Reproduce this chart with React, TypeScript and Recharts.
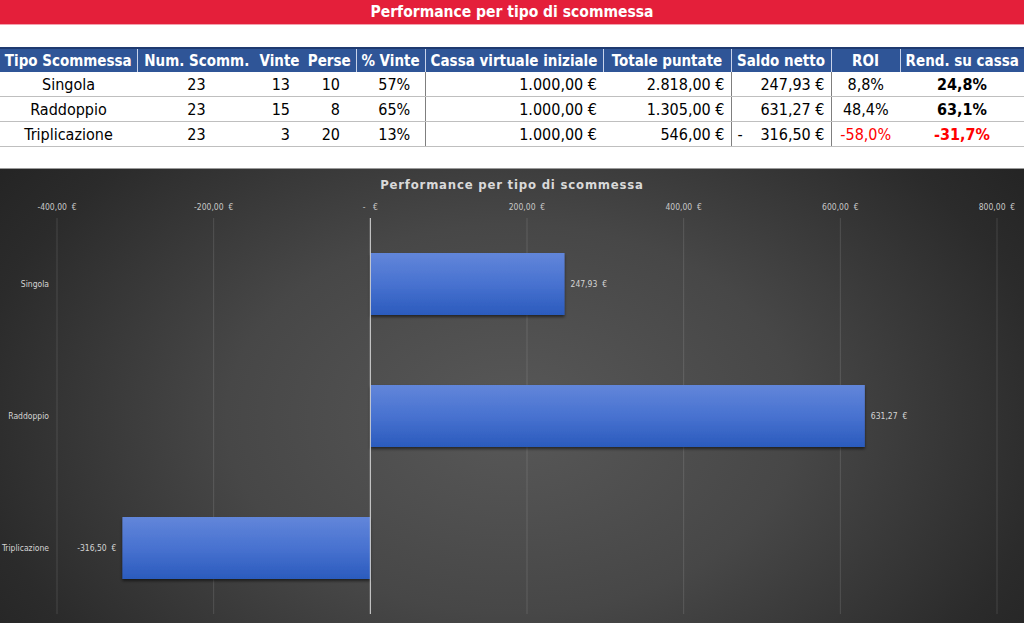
import React from "react";
import {
  BarChart,
  Bar,
  XAxis,
  YAxis,
  CartesianGrid,
  ReferenceLine,
  LabelList,
} from "recharts";

// righe della tabella / categorie del grafico
const TIPI = ["Singola", "Raddoppio", "Triplicazione"];
const NUM_SCOMM = [23, 23, 23];
const VINTE = [13, 15, 3];
const PERSE = [10, 8, 20];
const PERC_VINTE = [57, 65, 13];
const CASSA_INIZIALE = [1000, 1000, 1000];
const TOTALE_PUNTATE = [2818, 1305, 546];
const SALDO_NETTO = [247.93, 631.27, -316.5];
const ROI = [8.8, 48.4, -58.0];
const REND_CASSA = [24.8, 63.1, -31.7];

const X_TICKS = [-400, -200, 0, 200, 400, 600, 800];

const HEADERS = [
  "Tipo Scommessa",
  "Num. Scomm.",
  "Vinte",
  "Perse",
  "% Vinte",
  "Cassa virtuale iniziale",
  "Totale puntate",
  "Saldo netto",
  "ROI",
  "Rend. su cassa",
];
const COL_W = [137, 119, 47, 53, 69, 178, 128, 100, 69, 124];

const FONT = "'Liberation Sans Narrow', 'DejaVu Sans Condensed', 'Open Sans', sans-serif";

const num = (v: number, dec = 2) => {
  const [i, d] = Math.abs(v).toFixed(dec).split(".");
  const ii = i.replace(/\B(?=(\d{3})+(?!\d))/g, ".");
  return d ? ii + "," + d : ii;
};
const eur = (v: number) => (v < 0 ? "-" : "") + num(v) + "\u00a0\u00a0€";
const pct = (v: number) => (v < 0 ? "-" : "") + num(v, 1) + "%";

const chartData = TIPI.map((t, i) => ({ tipo: t, saldo: SALDO_NETTO[i] }));

function Tabella() {
  const cell: React.CSSProperties = {
    padding: "0 6px",
    height: 24,
    fontSize: 16,
    borderBottom: "1px solid #bfbfbf",
    whiteSpace: "nowrap",
  };
  const head: React.CSSProperties = {
    padding: "0 2px",
    height: 23,
    fontSize: 15,
    fontWeight: "bold",
    color: "#fff",
    background: "#2f5597",
    textAlign: "center",
    whiteSpace: "nowrap",
    overflow: "hidden",
    borderLeft: "1px solid #c9d3ea",
  };
  return (
    <table
      style={{
        position: "absolute",
        top: 47,
        left: 0,
        width: 1024,
        tableLayout: "fixed",
        borderCollapse: "collapse",
        fontFamily: FONT,
        color: "#000",
      }}
    >
      <colgroup>
        {COL_W.map((w, i) => (
          <col key={i} style={{ width: w }} />
        ))}
      </colgroup>
      <thead>
        <tr style={{ borderTop: "2px solid #1f3a70" }}>
          {HEADERS.map((h, i) => (
            <th
              key={h}
              style={{
                ...head,
                borderLeft: i === 0 || i === 2 || i === 3 ? "none" : head.borderLeft,
              }}
            >
              {h}
            </th>
          ))}
        </tr>
      </thead>
      <tbody>
        {TIPI.map((t, i) => {
          const neg = SALDO_NETTO[i] < 0;
          return (
            <tr key={t}>
              <td style={{ ...cell, textAlign: "center" }}>{t}</td>
              <td style={{ ...cell, textAlign: "center" }}>{NUM_SCOMM[i]}</td>
              <td style={{ ...cell, textAlign: "right", paddingRight: 13 }}>{VINTE[i]}</td>
              <td style={{ ...cell, textAlign: "right", paddingRight: 16 }}>{PERSE[i]}</td>
              <td style={{ ...cell, textAlign: "center", paddingLeft: 14, borderRight: "1px solid #7f7f7f" }}>
                {PERC_VINTE[i]}%
              </td>
              <td style={{ ...cell, textAlign: "right" }}>{num(CASSA_INIZIALE[i])} €</td>
              <td style={{ ...cell, textAlign: "right", borderRight: "1px solid #7f7f7f" }}>
                {num(TOTALE_PUNTATE[i])} €
              </td>
              <td style={{ ...cell, textAlign: "right", borderRight: "1px solid #7f7f7f", position: "relative" }}>
                {neg && <span style={{ position: "absolute", left: 6 }}>-</span>}
                {num(SALDO_NETTO[i])} €
              </td>
              <td style={{ ...cell, textAlign: "center", color: ROI[i] < 0 ? "#ff0000" : "#000" }}>
                {pct(ROI[i])}
              </td>
              <td
                style={{
                  ...cell,
                  textAlign: "center",
                  fontWeight: "bold",
                  color: REND_CASSA[i] < 0 ? "#ff0000" : "#000",
                }}
              >
                {pct(REND_CASSA[i])}
              </td>
            </tr>
          );
        })}
      </tbody>
    </table>
  );
}

export default function App() {
  return (
    <div
      style={{
        position: "absolute",
        left: 0,
        top: 0,
        width: 1024,
        height: 623,
        background: "#fff",
        overflow: "hidden",
        fontFamily: FONT,
      }}
    >
      <div
        style={{
          position: "absolute",
          top: 0,
          left: 0,
          width: 1024,
          height: 24,
          background: "#e41f3a",
          borderBottom: "1px solid #f3a0ad",
          color: "#fff",
          fontWeight: "bold",
          fontSize: 15.5,
          lineHeight: "24px",
          textAlign: "center",
        }}
      >
        Performance per tipo di scommessa
      </div>

      <Tabella />

      <div
        style={{
          position: "absolute",
          top: 168,
          left: 0,
          width: 1024,
          height: 455,
          borderTop: "1px solid #9a9a9a",
          boxSizing: "border-box",
          background:
            "radial-gradient(ellipse 62% 95% at 50% 55%, #585858 0%, #474747 45%, #2b2b2b 85%, #242424 100%)",
        }}
      >
        <div
          style={{
            position: "absolute",
            top: 8,
            width: 1024,
            textAlign: "center",
            color: "#d9d9d9",
            fontWeight: "bold",
            fontSize: 13,
            letterSpacing: 0.8,
          }}
        >
          Performance per tipo di scommessa
        </div>
        <BarChart
          width={1024}
          height={454}
          data={chartData}
          layout="vertical"
          margin={{ top: 19, right: 27, bottom: 9, left: 0 }}
          barCategoryGap={0}
        >
          <defs>
            <linearGradient id="barFill" x1="0" y1="0" x2="0" y2="1">
              <stop offset="0%" stopColor="#6286da" />
              <stop offset="50%" stopColor="#4872d0" />
              <stop offset="100%" stopColor="#2b5bbd" />
            </linearGradient>
            <filter id="barShadow" x="-10%" y="-20%" width="120%" height="150%">
              <feDropShadow dx="0" dy="2" stdDeviation="1.5" floodColor="#000" floodOpacity="0.55" />
            </filter>
          </defs>
          <CartesianGrid horizontal={false} stroke="rgba(255,255,255,0.13)" />
          <XAxis
            type="number"
            domain={[-400, 800]}
            ticks={X_TICKS}
            orientation="top"
            axisLine={false}
            tickLine={false}
            tick={{ fill: "#c8c8c8", fontSize: 8.5, fontFamily: FONT }}
            tickFormatter={(v: number) => (v === 0 ? "-\u00a0\u00a0\u00a0€" : eur(v))}
          />
          <YAxis
            type="category"
            dataKey="tipo"
            width={57}
            axisLine={false}
            tickLine={false}
            tick={{ fill: "#d4d4d4", fontSize: 8.5, fontFamily: FONT }}
          />
          <ReferenceLine x={0} stroke="#d6d6d6" strokeWidth={1} />
          <Bar
            dataKey="saldo"
            barSize={62}
            fill="url(#barFill)"
            filter="url(#barShadow)"
            isAnimationActive={false}
          >
            <LabelList
              dataKey="saldo"
              position="right"
              offset={6}
              formatter={(v: number) => eur(v)}
              style={{ fill: "#d4d4d4", fontSize: 8.5, fontFamily: FONT }}
            />
          </Bar>
        </BarChart>
      </div>
    </div>
  );
}
